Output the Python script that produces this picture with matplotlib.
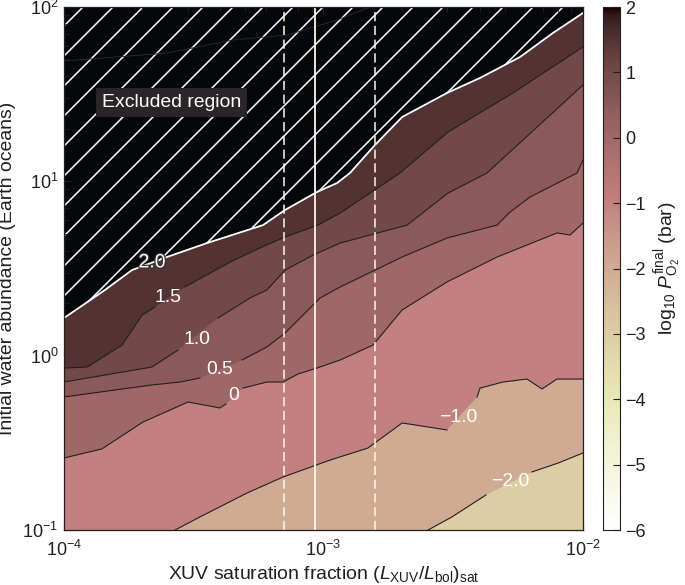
import numpy as np
import matplotlib
matplotlib.use('Agg')
import matplotlib.pyplot as plt
import matplotlib.patheffects as pe
from matplotlib.colors import Normalize
from matplotlib.cm import ScalarMappable

# drawn at 90 dpi so the hatch spacing matches; sizes scaled by S to keep pixel sizes
DPI = 90
S = 100 / DPI

plt.rcParams['font.family'] = ['Liberation Sans', 'DejaVu Sans']
plt.rcParams['mathtext.fontset'] = 'custom'
plt.rcParams['mathtext.rm'] = 'Liberation Sans'
plt.rcParams['mathtext.it'] = 'Liberation Sans:italic'
plt.rcParams['mathtext.bf'] = 'Liberation Sans:bold'
plt.rcParams['hatch.linewidth'] = 1.1 * S

# contour levels of log10 P_O2 (bar) as log10(x), log10(y) vertices
lev_20_lx = [-4.0, -3.842, -3.738, -3.603, -3.449, -3.233, -3.148, -3.025, -2.948, -2.898,
             -2.802, -2.697, -2.524, -2.397, -2.243, -2.116, -2.0]
lev_20_ly = [0.216, 0.377, 0.491, 0.566, 0.646, 0.749, 0.836, 0.939, 0.990, 1.048,
             1.208, 1.369, 1.507, 1.593, 1.713, 1.851, 1.966]

lev_15_lx = [-4.0, -3.911, -3.776, -3.699, -3.649, -3.534, -3.360, -3.245, -3.148, -3.021,
             -2.936, -2.705, -2.520, -2.270, -2.0]
lev_15_ly = [-0.071, -0.065, 0.061, 0.233, 0.279, 0.394, 0.537, 0.618, 0.681, 0.749,
             0.818, 1.048, 1.283, 1.507, 1.771]

lev_10_lx = [-4.0, -3.661, -3.561, -3.407, -3.283, -3.218, -3.148, -3.040, -2.936, -2.678,
             -2.520, -2.370, -2.0]
lev_10_ly = [-0.151, -0.065, 0.032, 0.216, 0.331, 0.377, 0.491, 0.577, 0.646, 0.749,
             0.933, 1.048, 1.553]

lev_05_lx = [-4.0, -3.661, -3.553, -3.476, -3.314, -3.218, -3.148, -3.013, -2.936, -2.697,
             -2.524, -2.331, -2.281, -2.204, -2.023, -2.0]
lev_05_ly = [-0.237, -0.168, -0.151, -0.128, -0.025, 0.050, 0.130, 0.331, 0.394, 0.566,
             0.675, 0.749, 0.824, 0.910, 1.048, 1.122]

lev_00_lx = [-4.0, -3.854, -3.696, -3.522, -3.399, -3.376, -3.310, -3.218, -3.156, -3.098,
             -3.025, -2.936, -2.809, -2.697, -2.524, -2.331, -2.100, -2.050, -2.0]
lev_00_ly = [-0.587, -0.535, -0.381, -0.266, -0.300, -0.277, -0.186, -0.151, -0.151, -0.105,
             -0.071, -0.025, 0.061, 0.262, 0.423, 0.566, 0.704, 0.692, 0.761]

lev_m10_lx = [-3.572, -3.476, -3.295, -3.156, -2.975, -2.829, -2.697, -2.524, -2.408, -2.397,
              -2.308, -2.216, -2.158, -2.100, -2.0]
lev_m10_ly = [-1.0, -0.925, -0.788, -0.696, -0.599, -0.530, -0.386, -0.426, -0.237, -0.186,
              -0.151, -0.134, -0.191, -0.134, -0.134]

lev_m20_lx = [-2.597, -2.505, -2.374, -2.197, -2.096, -2.0]
lev_m20_ly = [-1.0, -0.925, -0.799, -0.667, -0.616, -0.558]

# faint higher contour inside the excluded region
lev_25_lx = [-4.0, -3.603, -3.349, -3.141, -2.948, -2.821]
lev_25_ly = [1.690, 1.736, 1.811, 1.839, 1.925, 2.0]

levels = [2.0, 1.5, 1.0, 0.5, 0.0, -1.0, -2.0]
band_lower = [1.5, 1.0, 0.5, 0.0, -1.0, -2.0, -3.0]
curves_lx = [lev_20_lx, lev_15_lx, lev_10_lx, lev_05_lx, lev_00_lx, lev_m10_lx, lev_m20_lx]
curves_ly = [lev_20_ly, lev_15_ly, lev_10_ly, lev_05_ly, lev_00_ly, lev_m10_ly, lev_m20_ly]
label_gap = [None, 4, 2, 3, 5, 7, 2]

label_text = ['2.0', '1.5', '1.0', '0.5', '0', '\u22121.0', '\u22122.0']
label_lx = [-3.661, -3.599, -3.487, -3.399, -3.345, -2.482, -2.281]
label_ly = [0.532, 0.331, 0.090, -0.077, -0.231, -0.352, -0.719]

# vertical reference lines (saturation fraction)
vline_dashed = [7.05e-4, 1.58e-3]
vline_solid = [9.3e-4]

xmin, xmax = 1e-4, 1e-2
ymin, ymax = 1e-1, 1e2

cmap = plt.get_cmap('pink_r')
norm = Normalize(vmin=-6, vmax=2)
dark = '#231f20'

fig = plt.figure(figsize=(685 / DPI, 585 / DPI), dpi=DPI)
ax = fig.add_axes([0.0934, 0.094, 0.7577, 0.894])
cax = fig.add_axes([0.8803, 0.094, 0.0248, 0.894])

ax.set_xscale('log')
ax.set_yscale('log')
ax.set_xlim(xmin, xmax)
ax.set_ylim(ymin, ymax)

# excluded region (above the 2.0 curve)
cx = list(10 ** np.array(lev_20_lx))
cy = list(10 ** np.array(lev_20_ly))
ax.fill(cx + [xmax, xmin], cy + [ymax, ymax], facecolor='#04080a',
        edgecolor='white', hatch='/', linewidth=0, zorder=1)

# filled bands, painted from the top down
for k in range(len(levels)):
    cx = list(10 ** np.array(curves_lx[k]))
    cy = list(10 ** np.array(curves_ly[k]))
    ax.fill(cx + [xmax, xmin], cy + [ymin, ymin], facecolor=cmap(norm(band_lower[k])),
            edgecolor='none', linewidth=0, zorder=2)

ax.plot(10 ** np.array(lev_25_lx), 10 ** np.array(lev_25_ly), color='#2c2627',
        lw=0.7 * S, zorder=1.5)

# contour lines
for k in range(len(levels)):
    x = 10 ** np.array(curves_lx[k])
    y = 10 ** np.array(curves_ly[k])
    if label_gap[k] is None:
        ax.plot(x, y, color='white', lw=1.3 * S, zorder=3)
    else:
        g = label_gap[k]
        ax.plot(x[:g + 1], y[:g + 1], color=dark, lw=0.8 * S, zorder=3)
        ax.plot(x[g + 1:], y[g + 1:], color=dark, lw=0.8 * S, zorder=3)

for k in range(len(levels)):
    t = ax.text(10 ** label_lx[k], 10 ** label_ly[k], label_text[k], color='white',
                fontsize=14 * S, ha='center', va='center', zorder=5)
    if k == 0:
        t.set_path_effects([pe.withStroke(linewidth=1.8 * S, foreground='#3a3334')])

for xv in vline_dashed:
    ax.axvline(xv, color='#fdf7ee', lw=1.1 * S, dashes=(6, 3), zorder=4)
for xv in vline_solid:
    ax.axvline(xv, color='#fdf7ee', lw=1.3 * S, zorder=4)

ax.text(0.208, 0.818, 'Excluded region', transform=ax.transAxes, color='white',
        fontsize=14 * S, ha='center', va='center', zorder=6,
        bbox=dict(boxstyle='square,pad=0.3', fc='#2a2526', ec='none'))

ax.set_xlabel(r'XUV saturation fraction $(L_{\mathrm{XUV}}/L_{\mathrm{bol}})_{\mathrm{sat}}$',
              fontsize=14 * S, color=dark, labelpad=3 * S)
ax.set_ylabel('Initial water abundance (Earth oceans)', fontsize=14 * S, color=dark,
              labelpad=5 * S)
ax.tick_params(which='both', direction='in', top=True, right=True, colors=dark,
               labelsize=13 * S)
ax.tick_params(axis='x', which='major', pad=7 * S)
ax.tick_params(axis='y', which='major', pad=4 * S)
ax.tick_params(which='major', length=6 * S, width=0.8 * S)
ax.tick_params(which='minor', length=3.5 * S, width=0.6 * S)
for s in ax.spines.values():
    s.set_color(dark)
    s.set_linewidth(0.9 * S)
    s.set_zorder(7)

sm = ScalarMappable(norm=norm, cmap=cmap)
cb = fig.colorbar(sm, cax=cax, ticks=range(-6, 3))
cb.ax.tick_params(direction='in', length=5 * S, width=0.8 * S, colors=dark,
                  labelsize=13 * S, pad=4 * S)
cb.outline.set_linewidth(0.8 * S)
cb.outline.set_edgecolor(dark)
cb.set_label(r'$\log_{10}\,P^{\mathrm{final}}_{\mathrm{O_2}}$ (bar)', fontsize=14 * S,
             color=dark, labelpad=4 * S)

fig.savefig('out.png', dpi=DPI)
